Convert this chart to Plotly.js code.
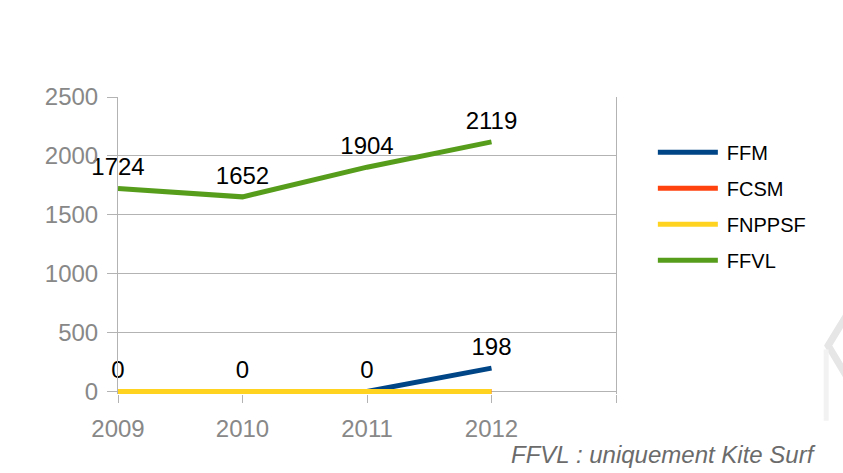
<!DOCTYPE html>
<html>
<head>
<meta charset="utf-8">
<script src="https://cdn.plot.ly/plotly-3.0.1.min.js"></script>
<style>
  html, body { margin: 0; padding: 0; background: #fff; }
  #chart { width: 843px; height: 473px; }
</style>
</head>
<body>
<div id="chart"></div>
<script>
// données
const years = [2009, 2010, 2011, 2012];
const ffm = [0, 0, 0, 198];
const fcsm = [0, 0, 0, 0];
const fnppsf = [0, 0, 0, 0];
const ffvl = [1724, 1652, 1904, 2119];

const tickYears = [2009, 2010, 2011, 2012, 2013];
const tickLabels = ['2009', '2010', '2011', '2012', ''];
const footNote = 'FFVL : uniquement Kite Surf';

const labelFont = { family: 'Liberation Sans, Arial, sans-serif', size: 24, color: '#000' };

// une trace par fédération
function makeTrace(name, values, color, withLabels) {
    return {
        type: 'scatter',
        mode: withLabels ? 'lines+markers+text' : 'lines',
        x: years,
        y: values,
        name: name,
        legendgroup: name,
        line: { color: color, width: 5 },
        marker: { size: 10, color: 'rgba(0,0,0,0)' },
        text: withLabels ? values.map(String) : null,
        textposition: 'top center',
        textfont: labelFont,
        cliponaxis: false,
        hoverinfo: 'x+y+name'
    };
}

const traces = [
    makeTrace('FFM', ffm, '#004586', true),
    makeTrace('FCSM', fcsm, '#ff420e', false),
    makeTrace('FNPPSF', fnppsf, '#ffd320', false),
    makeTrace('FFVL', ffvl, '#579d1c', true)
];

const layout = {
    width: 843,
    height: 473,
    paper_bgcolor: '#fff',
    plot_bgcolor: '#fff',
    margin: { l: 118, r: 227, t: 97, b: 79 },
    font: { family: 'Liberation Sans, Arial, sans-serif', size: 24, color: '#888' },
    showlegend: true,
    legend: {
        x: 1.074,
        xanchor: 'left',
        y: 0.88,
        yanchor: 'top',
        font: { size: 20, color: '#000' },
        tracegroupgap: 7,
        itemwidth: 64,
        bgcolor: 'rgba(0,0,0,0)'
    },
    xaxis: {
        range: [2009, 2013],
        tickvals: tickYears,
        ticktext: tickLabels,
        showgrid: false,
        zeroline: false,
        showline: false,
        ticks: 'outside',
        ticklen: 8,
        tickcolor: '#b3b3b3',
        ticklabelstandoff: 5,
        tickfont: { size: 24, color: '#888' }
    },
    yaxis: {
        range: [-22, 2500],
        tick0: 0,
        dtick: 500,
        showgrid: true,
        gridcolor: '#b3b3b3',
        zeroline: true,
        zerolinecolor: '#b3b3b3',
        zerolinewidth: 1,
        showline: true,
        mirror: true,
        linecolor: '#b3b3b3',
        ticks: 'outside',
        ticklen: 10,
        tickcolor: '#b3b3b3',
        ticklabelstandoff: 4,
        tickfont: { size: 24, color: '#888' }
    },
    // filigrane pâle sur le bord droit
    shapes: [
        {
            type: 'path', xref: 'paper', yref: 'paper', layer: 'below',
            path: 'M1.462,0.262 L1.426,0.163 L1.462,0.062',
            line: { color: '#e6e6e6', width: 7 }
        },
        {
            type: 'path', xref: 'paper', yref: 'paper', layer: 'below',
            path: 'M1.422,0.15 L1.422,-0.09',
            line: { color: '#f2f2f2', width: 5 }
        }
    ],
    annotations: [{
        xref: 'paper',
        yref: 'paper',
        x: 1.405,
        y: -0.204,
        xanchor: 'right',
        yanchor: 'middle',
        text: footNote,
        showarrow: false,
        font: { size: 24, color: '#6b6b6b', style: 'italic' }
    }]
};

const config = { staticPlot: true, displayModeBar: false };

Plotly.newPlot('chart', traces, layout, config).then(function(gd) {
    // allonger les traits de la légende comme sur l'original
    gd.querySelectorAll('.legendlines path').forEach(function(p) {
        p.setAttribute('d', 'M5,0h60');
    });
});
</script>
</body>
</html>
